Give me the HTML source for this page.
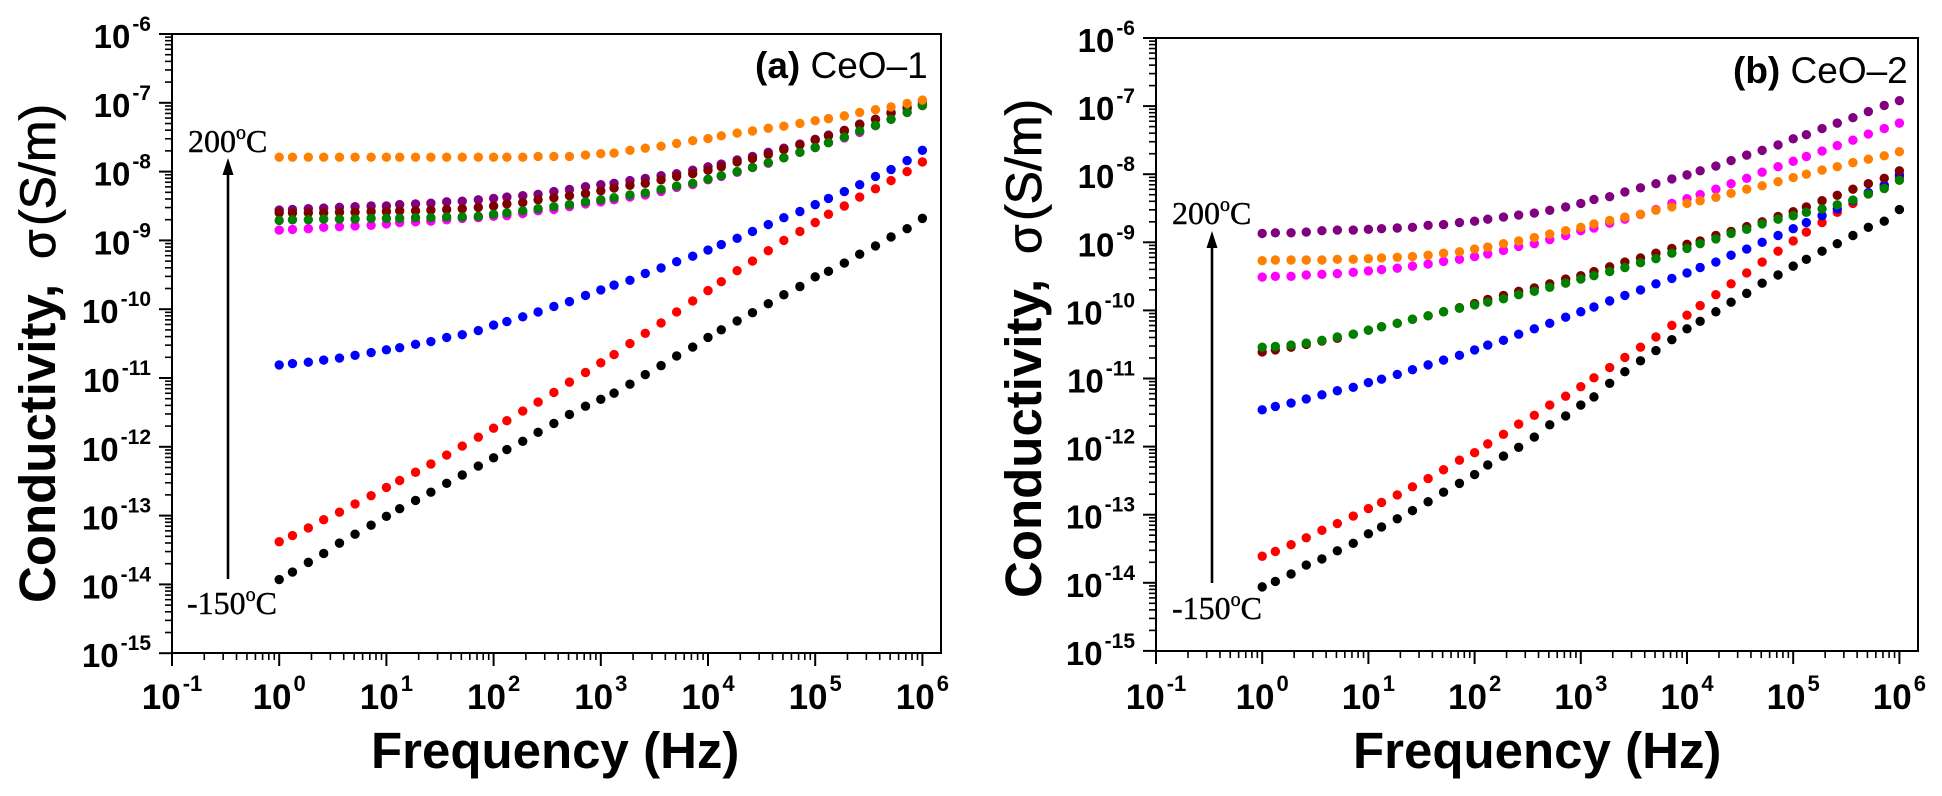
<!DOCTYPE html>
<html lang="en">
<head>
<meta charset="utf-8">
<title>Conductivity vs frequency: CeO-1 and CeO-2</title>
<style>
html,body{margin:0;padding:0;background:#fff;}
svg{display:block;}
text{font-family:"Liberation Sans",sans-serif;fill:#000;}
.serif{font-family:"Liberation Serif",serif;}
</style>
</head>
<body>
<svg id="figure" xmlns="http://www.w3.org/2000/svg" width="1942" height="796" viewBox="0 0 1942 796"></svg>
<script>
// Frequency categories (Hz)
const frequencies = [1,1.33,1.87,2.6,3.65,5.1,7.2,10,13.3,18.7,26,36.5,51,72,100,133,187,260,365,510,720,1000,1330,1870,2600,3650,5100,7200,10000,13300,18700,26000,36500,51000,72000,100000,133000,187000,260000,365000,510000,720000,1000000];

// Tick label exponents
const xTickExponents = [-1,0,1,2,3,4,5,6];
const yTickExponents = [-6,-7,-8,-9,-10,-11,-12,-13,-14,-15];
const minorMultipliers = [2,3,4,5,6,7,8,9];

// Panel (a) CeO-1: log10 conductivity per series
const aBlack = [-13.93,-13.82,-13.68,-13.55,-13.40,-13.27,-13.14,-13.01,-12.90,-12.78,-12.66,-12.53,-12.41,-12.28,-12.16,-12.04,-11.92,-11.79,-11.66,-11.53,-11.41,-11.31,-11.22,-11.09,-10.95,-10.82,-10.68,-10.55,-10.41,-10.30,-10.17,-10.05,-9.92,-9.79,-9.67,-9.53,-9.45,-9.33,-9.20,-9.08,-8.95,-8.83,-8.68];
const aRed = [-13.38,-13.29,-13.18,-13.06,-12.95,-12.83,-12.71,-12.59,-12.49,-12.37,-12.25,-12.12,-11.99,-11.86,-11.73,-11.62,-11.48,-11.35,-11.21,-11.06,-10.92,-10.78,-10.66,-10.50,-10.35,-10.20,-10.04,-9.88,-9.73,-9.60,-9.44,-9.30,-9.15,-9.00,-8.87,-8.74,-8.62,-8.50,-8.37,-8.25,-8.13,-8.00,-7.86];
const aBlue = [-10.81,-10.79,-10.77,-10.74,-10.71,-10.67,-10.63,-10.59,-10.56,-10.51,-10.47,-10.41,-10.37,-10.31,-10.23,-10.18,-10.11,-10.04,-9.96,-9.89,-9.80,-9.72,-9.65,-9.58,-9.48,-9.40,-9.31,-9.23,-9.14,-9.06,-8.97,-8.87,-8.77,-8.67,-8.58,-8.48,-8.39,-8.29,-8.19,-8.07,-7.97,-7.84,-7.69];
const aMagenta = [-8.85,-8.84,-8.83,-8.81,-8.80,-8.79,-8.78,-8.76,-8.74,-8.73,-8.72,-8.70,-8.68,-8.67,-8.65,-8.64,-8.61,-8.57,-8.55,-8.51,-8.47,-8.44,-8.41,-8.37,-8.34,-8.29,-8.23,-8.19,-8.12,-8.07,-8.01,-7.94,-7.88,-7.80,-7.72,-7.65,-7.58,-7.51,-7.43,-7.33,-7.24,-7.14,-7.04];
const aPurple = [-8.56,-8.55,-8.54,-8.53,-8.52,-8.51,-8.50,-8.50,-8.48,-8.47,-8.46,-8.44,-8.43,-8.41,-8.39,-8.37,-8.35,-8.33,-8.29,-8.26,-8.22,-8.19,-8.17,-8.13,-8.10,-8.06,-8.03,-7.98,-7.93,-7.89,-7.83,-7.78,-7.72,-7.66,-7.60,-7.53,-7.47,-7.40,-7.31,-7.24,-7.14,-7.06,-7.00];
const aDarkRed = [-8.60,-8.60,-8.60,-8.60,-8.59,-8.59,-8.58,-8.58,-8.57,-8.57,-8.56,-8.55,-8.54,-8.52,-8.50,-8.47,-8.45,-8.41,-8.38,-8.35,-8.32,-8.28,-8.24,-8.20,-8.17,-8.12,-8.07,-8.03,-7.98,-7.93,-7.86,-7.81,-7.75,-7.68,-7.61,-7.54,-7.48,-7.41,-7.32,-7.24,-7.15,-7.08,-7.03];
const aGreen = [-8.71,-8.70,-8.70,-8.69,-8.69,-8.69,-8.68,-8.68,-8.68,-8.67,-8.67,-8.66,-8.66,-8.65,-8.62,-8.60,-8.57,-8.54,-8.51,-8.48,-8.44,-8.41,-8.38,-8.34,-8.31,-8.26,-8.21,-8.17,-8.11,-8.06,-8.00,-7.94,-7.87,-7.80,-7.72,-7.65,-7.58,-7.50,-7.41,-7.33,-7.24,-7.14,-7.04];
const aOrange = [-7.79,-7.79,-7.79,-7.79,-7.79,-7.79,-7.79,-7.79,-7.79,-7.79,-7.79,-7.79,-7.79,-7.79,-7.79,-7.79,-7.79,-7.78,-7.78,-7.78,-7.76,-7.74,-7.73,-7.69,-7.66,-7.63,-7.59,-7.55,-7.52,-7.48,-7.44,-7.41,-7.37,-7.34,-7.30,-7.26,-7.23,-7.19,-7.14,-7.10,-7.06,-7.01,-6.96];

// Panel (b) CeO-2: log10 conductivity per series
const bBlack = [-14.06,-13.98,-13.87,-13.74,-13.65,-13.53,-13.42,-13.28,-13.18,-13.06,-12.94,-12.81,-12.67,-12.54,-12.41,-12.27,-12.14,-12.01,-11.86,-11.68,-11.55,-11.39,-11.27,-11.07,-10.90,-10.74,-10.59,-10.43,-10.27,-10.16,-10.02,-9.88,-9.75,-9.60,-9.48,-9.35,-9.25,-9.13,-9.02,-8.90,-8.78,-8.69,-8.52];
const bRed = [-13.61,-13.54,-13.44,-13.34,-13.23,-13.13,-13.02,-12.91,-12.82,-12.71,-12.59,-12.47,-12.34,-12.20,-12.09,-11.96,-11.82,-11.67,-11.54,-11.39,-11.26,-11.12,-10.99,-10.84,-10.69,-10.54,-10.39,-10.22,-10.07,-9.93,-9.77,-9.61,-9.45,-9.29,-9.13,-8.98,-8.85,-8.71,-8.56,-8.43,-8.29,-8.18,-8.05];
const bBlue = [-11.46,-11.41,-11.36,-11.30,-11.24,-11.18,-11.13,-11.06,-11.01,-10.94,-10.87,-10.80,-10.73,-10.66,-10.58,-10.51,-10.44,-10.35,-10.27,-10.19,-10.10,-10.02,-9.95,-9.86,-9.78,-9.70,-9.61,-9.53,-9.45,-9.37,-9.29,-9.19,-9.10,-9.00,-8.90,-8.80,-8.71,-8.61,-8.51,-8.39,-8.27,-8.16,-8.01];
const bMagenta = [-9.51,-9.50,-9.50,-9.48,-9.47,-9.46,-9.44,-9.42,-9.40,-9.38,-9.35,-9.32,-9.28,-9.25,-9.21,-9.17,-9.12,-9.06,-9.02,-8.96,-8.90,-8.83,-8.79,-8.72,-8.66,-8.59,-8.52,-8.43,-8.36,-8.30,-8.22,-8.14,-8.06,-7.97,-7.89,-7.81,-7.74,-7.66,-7.58,-7.50,-7.41,-7.33,-7.25];
const bPurple = [-8.87,-8.86,-8.86,-8.85,-8.83,-8.82,-8.82,-8.81,-8.80,-8.79,-8.78,-8.75,-8.74,-8.71,-8.69,-8.66,-8.63,-8.60,-8.57,-8.53,-8.48,-8.43,-8.37,-8.33,-8.26,-8.20,-8.14,-8.07,-8.01,-7.95,-7.88,-7.80,-7.72,-7.65,-7.57,-7.48,-7.42,-7.33,-7.25,-7.17,-7.08,-6.99,-6.92];
const bDarkRed = [-10.61,-10.58,-10.54,-10.50,-10.45,-10.41,-10.35,-10.29,-10.24,-10.19,-10.13,-10.08,-10.02,-9.96,-9.90,-9.84,-9.78,-9.72,-9.67,-9.61,-9.54,-9.49,-9.43,-9.36,-9.29,-9.23,-9.16,-9.09,-9.03,-8.98,-8.90,-8.84,-8.77,-8.70,-8.62,-8.55,-8.48,-8.39,-8.31,-8.22,-8.14,-8.06,-7.95];
const bGreen = [-10.54,-10.53,-10.51,-10.48,-10.44,-10.39,-10.35,-10.29,-10.24,-10.19,-10.13,-10.08,-10.02,-9.97,-9.92,-9.88,-9.83,-9.77,-9.72,-9.66,-9.60,-9.54,-9.49,-9.43,-9.37,-9.30,-9.24,-9.16,-9.09,-9.02,-8.95,-8.87,-8.81,-8.73,-8.66,-8.61,-8.56,-8.51,-8.45,-8.38,-8.29,-8.21,-8.09];
const bOrange = [-9.27,-9.26,-9.26,-9.26,-9.26,-9.25,-9.25,-9.24,-9.23,-9.22,-9.21,-9.19,-9.16,-9.14,-9.10,-9.07,-9.02,-8.98,-8.93,-8.88,-8.83,-8.78,-8.73,-8.68,-8.63,-8.59,-8.53,-8.48,-8.43,-8.39,-8.34,-8.28,-8.22,-8.17,-8.11,-8.05,-8.00,-7.94,-7.89,-7.83,-7.78,-7.73,-7.67];

const SVG_NS = 'http://www.w3.org/2000/svg';
const figure = document.getElementById('figure');

function make(parent, tag, attrs, txt) {
  const el = document.createElementNS(SVG_NS, tag);
  for (const k in attrs) el.setAttribute(k, attrs[k]);
  if (txt !== undefined) el.textContent = txt;
  parent.appendChild(el);
  return el;
}

function drawPanel(p) {
  const g = make(figure, 'g', {});
  
  

  const xScale = f => p.left + (Math.log10(f) + 1) * p.decX;
  const yScale = v => p.top + (-6 - v) * p.decY;

  // Frame
  const frame = make(g, 'rect', {x: p.left, y: p.top, width: p.right - p.left, height: p.bottom - p.top, fill: 'none', stroke: '#000', 'stroke-width': 2});
  
  

  // X ticks
  xTickExponents.forEach(e => {
    const x = xScale(Math.pow(10, e));
    const major = make(g, 'line', {x1: x, x2: x, y1: p.bottom, y2: p.bottom + 13, stroke: '#000', 'stroke-width': 2});
    
    
    if (e < 6) {
      minorMultipliers.forEach(m => {
        const xm = xScale(m * Math.pow(10, e));
        const minor = make(g, 'line', {x1: xm, x2: xm, y1: p.bottom, y2: p.bottom + 7, stroke: '#000', 'stroke-width': 1.6});
        
        
      });
    }
    const label = make(g, 'text', {x: x, y: 709, 'text-anchor': 'middle', 'font-size': 35, 'font-weight': 'bold'});
    
    
    make(label, 'tspan', {}, '10');
    make(label, 'tspan', {dy: -18, dx: 2, 'font-size': 22}, String(e));
  });

  // Y ticks
  yTickExponents.forEach(e => {
    const y = yScale(e);
    const major = make(g, 'line', {x1: p.left - 13, x2: p.left, y1: y, y2: y, stroke: '#000', 'stroke-width': 2});
    
    
    if (e > -15) {
      minorMultipliers.forEach(m => {
        const ym = yScale(e - 1 + Math.log10(m));
        const minor = make(g, 'line', {x1: p.left - 7, x2: p.left, y1: ym, y2: ym, stroke: '#000', 'stroke-width': 1.6});
        
        
      });
    }
    const label = make(g, 'text', {x: p.left - 21, y: y + 14, 'text-anchor': 'end', 'font-size': 33, 'font-weight': 'bold'});
    
    
    make(label, 'tspan', {}, '10');
    make(label, 'tspan', {dy: -17, dx: 2, 'font-size': 21}, String(e));
  });

  // Series
  p.series.forEach(s => {
    const sg = make(g, 'g', {fill: s.color});
    
    
    s.values.forEach((v, i) => {
      const c = make(sg, 'circle', {cx: xScale(frequencies[i]), cy: yScale(v), r: 4.7});
      
      
    });
  });

  // Axis titles
  const xt = make(g, 'text', {x: p.xTitleX, y: p.xTitleY, 'font-size': 51, 'font-weight': 'bold'}, 'Frequency (Hz)');
  
  

  const yt1 = make(g, 'text', {transform: 'translate(' + p.yTitleX + ',' + p.yTitleBold + ') rotate(-90)', 'font-size': 51, 'font-weight': 'bold'}, 'Conductivity,');
  
  
  const yt2 = make(g, 'text', {transform: 'translate(' + p.yTitleX + ',' + p.yTitleSigma + ') rotate(-90)', 'font-size': 48, stroke: '#000', 'stroke-width': 0.7}, 'σ');
  
  
  const yt3 = make(g, 'text', {transform: 'translate(' + p.yTitleX + ',' + p.yTitleUnit + ') rotate(-90)', 'font-size': 50, stroke: '#000', 'stroke-width': 0.7}, '(S/m)');
  
  

  // Panel label
  const title = make(g, 'text', {x: p.titleX, y: p.titleY, 'font-size': 37});
  
  
  make(title, 'tspan', {'font-weight': 'bold'}, p.titleBold);
  make(title, 'tspan', {}, ' ' + p.titleRest);

  // Arrow
  const arrowLine = make(g, 'line', {x1: p.arrowX, x2: p.arrowX, y1: p.arrowBottom, y2: p.arrowTop + 14, stroke: '#000', 'stroke-width': 2.6});
  
  
  const head = make(g, 'polygon', {points: p.arrowX + ',' + p.arrowTop + ' ' + (p.arrowX - 5.5) + ',' + (p.arrowTop + 17) + ' ' + (p.arrowX + 5.5) + ',' + (p.arrowTop + 17), fill: '#000'});
  
  

  // Temperature labels
  [[p.hotX, p.hotY, '200', 'high-temperature-label'], [p.coldX, p.coldY, '-150', 'low-temperature-label']].forEach(t => {
    const lab = make(g, 'text', {x: t[0], y: t[1], 'font-size': 32, class: 'serif', stroke: '#000', 'stroke-width': 0.4});
    
    
    make(lab, 'tspan', {}, t[2]);
    make(lab, 'tspan', {dy: -13, 'font-size': 20}, 'o');
    make(lab, 'tspan', {dy: 13}, 'C');
  });
}

drawPanel({
  id: 'ceo-1', left: 172, right: 941, top: 34, bottom: 653, decX: 107.2, decY: 68.8,
  xTitleX: 371, xTitleY: 768, yTitleX: 55, yTitleBold: 603, yTitleSigma: 259, yTitleUnit: 226,
  titleX: 755, titleY: 78, titleBold: '(a)', titleRest: 'CeO–1',
  arrowX: 228, arrowTop: 158, arrowBottom: 579,
  hotX: 188, hotY: 152, coldX: 187, coldY: 614,
  series: [
    {name: 'black', color: '#000000', values: aBlack},
    {name: 'red', color: '#ff0000', values: aRed},
    {name: 'blue', color: '#0000ff', values: aBlue},
    {name: 'magenta', color: '#ff00ff', values: aMagenta},
    {name: 'purple', color: '#800080', values: aPurple},
    {name: 'dark-red', color: '#800000', values: aDarkRed},
    {name: 'green', color: '#008000', values: aGreen},
    {name: 'orange', color: '#ff8000', values: aOrange}
  ]
});

drawPanel({
  id: 'ceo-2', left: 1156, right: 1918, top: 38, bottom: 651, decX: 106.2, decY: 68.1,
  xTitleX: 1353, xTitleY: 768, yTitleX: 1041, yTitleBold: 598, yTitleSigma: 254, yTitleUnit: 221,
  titleX: 1733, titleY: 83, titleBold: '(b)', titleRest: 'CeO–2',
  arrowX: 1212, arrowTop: 231, arrowBottom: 583,
  hotX: 1172, hotY: 224, coldX: 1172, coldY: 619,
  series: [
    {name: 'black', color: '#000000', values: bBlack},
    {name: 'red', color: '#ff0000', values: bRed},
    {name: 'blue', color: '#0000ff', values: bBlue},
    {name: 'magenta', color: '#ff00ff', values: bMagenta},
    {name: 'purple', color: '#800080', values: bPurple},
    {name: 'dark-red', color: '#800000', values: bDarkRed},
    {name: 'green', color: '#008000', values: bGreen},
    {name: 'orange', color: '#ff8000', values: bOrange}
  ]
});
</script>
</body>
</html>
